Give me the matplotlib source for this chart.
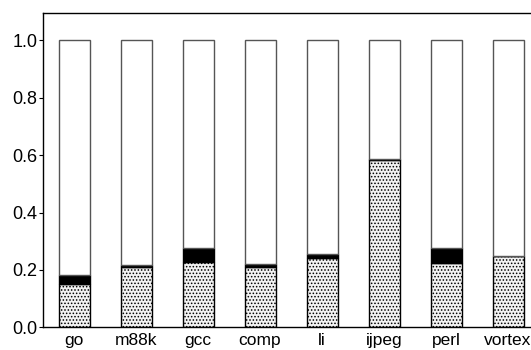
import matplotlib
matplotlib.use("Agg")
import matplotlib.pyplot as plt
import numpy as np

plt.rcParams["font.family"] = ["Liberation Sans", "DejaVu Sans"]
plt.rcParams["hatch.color"] = "#8a8a8a"
plt.rcParams["hatch.linewidth"] = 0.7

benchmarks = ["go", "m88k", "gcc", "comp", "li", "ijpeg", "perl", "vortex"]
dotted = [0.152, 0.211, 0.229, 0.212, 0.242, 0.583, 0.224, 0.248]
black = [0.031, 0.006, 0.047, 0.010, 0.013, 0.004, 0.052, 0.0]

x = np.arange(len(benchmarks))
dotted = np.array(dotted)
black = np.array(black)
white = 1.0 - dotted - black

fig = plt.figure(figsize=(5.31, 3.5), dpi=100)
ax = fig.add_axes([43 / 531, 0.0643, 496 / 531, 0.8986])

ax.bar(x, dotted, width=0.5, color="#f2f2f2", hatch=".....", edgecolor="black", linewidth=1.0)
ax.bar(x, black, width=0.5, bottom=dotted, color="black", edgecolor="black", linewidth=1.0)
ax.bar(x, white, width=0.5, bottom=dotted + black, color="white", edgecolor="#555555", linewidth=1.0)

ax.set_xlim(-0.5, 7.5)
ax.set_ylim(0, 1.094)
ax.set_xticks(x, benchmarks)
ax.set_yticks([0.0, 0.2, 0.4, 0.6, 0.8, 1.0])
ax.tick_params(axis="x", length=0, labelsize=12.5, pad=4)
ax.tick_params(axis="y", direction="out", length=3, labelsize=13, pad=1)
for side in ax.spines.values():
    side.set_linewidth(1.0)

fig.savefig("out.png", dpi=100)
